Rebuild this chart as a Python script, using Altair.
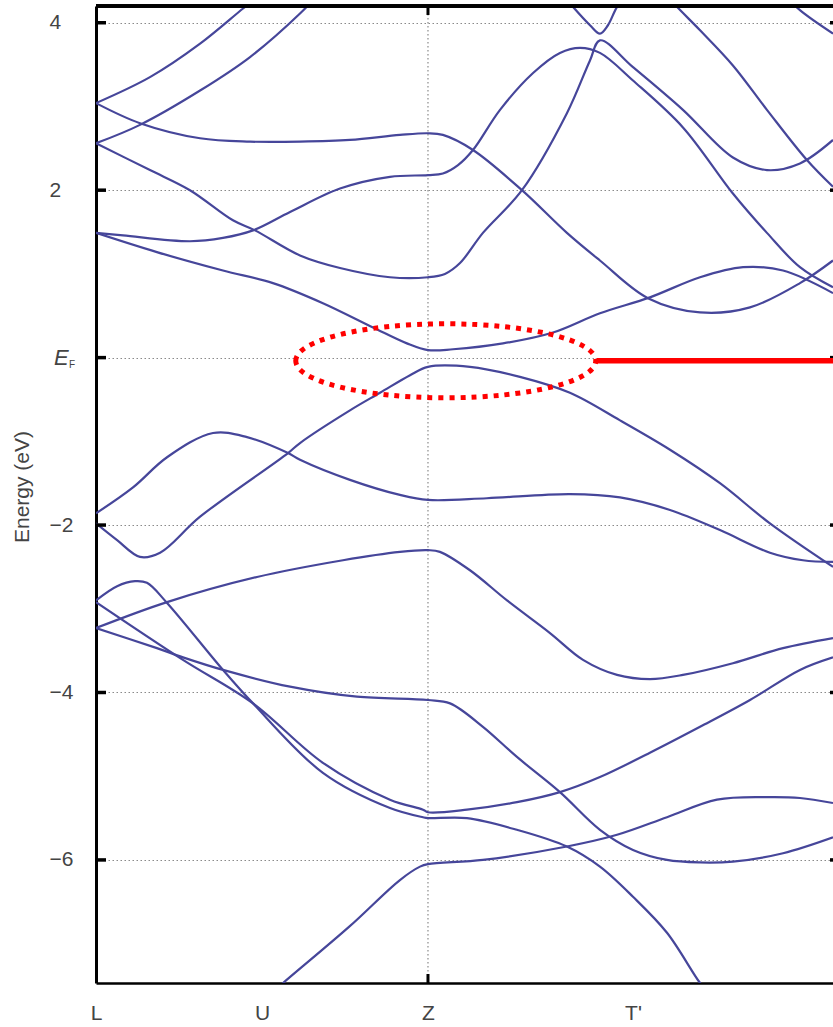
import json
import altair as alt
import pandas as pd

# ---------------- data ----------------
kpoint_names = ["L", "U", "Z", "T'"]
kpoint_pos = [0.0, 1.0, 2.0, 3.235]
k_max = 4.44
e_min, e_max = -7.47, 4.2
energy_ticks = [-6, -4, -2, 0, 2, 4]
z_line = [2.0]

A_k = [0.0, 0.325, 0.627, 0.886, 0.988]
A_e = [3.04, 3.35, 3.75, 4.17, 4.33]

B_k = [0.0, 0.265, 0.627, 0.928, 1.229, 1.349]
B_e = [2.56, 2.78, 3.19, 3.59, 4.11, 4.36]

C_k = [0.0, 0.265, 0.627, 0.928, 1.229, 1.530, 1.831, 2.0, 2.090, 2.271, 2.566, 2.837, 3.036, 3.325, 3.639, 3.940, 4.241, 4.44]
C_e = [3.04, 2.80, 2.62, 2.58, 2.58, 2.60, 2.66, 2.68, 2.66, 2.48, 2.00, 1.49, 1.16, 0.71, 0.54, 0.60, 0.89, 1.16]

D_k = [0.0, 0.325, 0.566, 0.825, 0.958, 1.229, 1.470, 1.771, 2.0, 2.102, 2.193, 2.331, 2.566, 2.837, 2.976, 3.036, 3.235, 3.536, 3.837, 4.042, 4.241, 4.44]
D_e = [2.56, 2.24, 2.00, 1.64, 1.52, 1.22, 1.07, 0.96, 0.96, 1.00, 1.13, 1.49, 2.00, 2.92, 3.55, 3.79, 3.47, 2.96, 2.39, 2.24, 2.32, 2.60]

E_k = [0.0, 0.163, 0.566, 0.765, 0.946, 1.169, 1.470, 1.771, 2.0, 2.090, 2.181, 2.271, 2.434, 2.633, 2.795, 2.916, 3.036, 3.235, 3.536, 3.837, 4.042, 4.241, 4.44]
E_e = [1.49, 1.46, 1.39, 1.43, 1.52, 1.74, 2.02, 2.16, 2.18, 2.20, 2.30, 2.48, 2.96, 3.40, 3.64, 3.70, 3.64, 3.31, 2.75, 1.96, 1.49, 1.08, 0.84]

F_k = [0.0, 0.367, 0.765, 1.066, 1.367, 1.669, 1.873, 2.0, 2.151, 2.452, 2.753, 3.036, 3.337, 3.639, 3.898, 4.139, 4.44]
F_e = [1.49, 1.26, 1.04, 0.89, 0.65, 0.36, 0.17, 0.09, 0.10, 0.17, 0.30, 0.53, 0.72, 0.96, 1.08, 1.04, 0.77]

V_k = [2.765, 2.873, 2.976, 3.036, 3.084, 3.139, 3.217]
V_e = [4.45, 4.19, 3.97, 3.87, 3.97, 4.19, 4.39]

S_k = [3.428, 3.500, 3.639, 3.837, 4.042, 4.283, 4.44]
S_e = [4.35, 4.19, 3.91, 3.49, 2.96, 2.36, 2.04]

T_k = [4.151, 4.241, 4.44]
T_e = [4.33, 4.15, 3.87]

G_k = [0.0, 0.223, 0.428, 0.705, 0.910, 1.157, 1.229, 1.530, 1.831, 2.0, 2.355, 2.855, 3.157, 3.458, 3.759, 4.060, 4.259, 4.44]
G_e = [-1.86, -1.55, -1.19, -0.90, -0.95, -1.14, -1.22, -1.46, -1.64, -1.70, -1.68, -1.63, -1.67, -1.82, -2.06, -2.33, -2.42, -2.44]

H_k = [0.0, 0.127, 0.265, 0.386, 0.627, 1.157, 1.229, 1.530, 1.711, 1.892, 2.0, 2.253, 2.554, 2.855, 3.157, 3.458, 3.759, 4.060, 4.44]
H_e = [-1.98, -2.18, -2.38, -2.33, -1.90, -1.14, -1.02, -0.63, -0.42, -0.21, -0.11, -0.11, -0.23, -0.42, -0.75, -1.10, -1.50, -1.98, -2.50]

I_k = [0.0, 0.127, 0.235, 0.307, 0.428, 0.765, 0.946, 1.367, 1.771, 1.970, 2.0, 2.235, 2.536, 2.837, 3.036, 3.235, 3.440, 3.639, 3.699]
I_e = [-2.90, -2.73, -2.67, -2.69, -2.93, -3.73, -4.13, -4.96, -5.38, -5.49, -5.50, -5.50, -5.64, -5.84, -6.08, -6.44, -6.87, -7.47, -7.61]

J_k = [0.0, 0.428, 0.970, 1.488, 1.831, 2.0, 2.072, 2.253, 2.476, 2.735, 2.934, 3.139, 3.337, 3.536, 3.837, 4.139, 4.44]
J_e = [-3.23, -2.92, -2.62, -2.42, -2.32, -2.30, -2.32, -2.54, -2.90, -3.29, -3.61, -3.79, -3.84, -3.79, -3.65, -3.47, -3.35]

K_k = [0.0, 0.367, 0.524, 0.765, 1.169, 1.572, 2.0, 2.133, 2.331, 2.536, 2.795, 3.036, 3.235, 3.440, 3.639, 3.837, 4.139, 4.44]
K_e = [-3.23, -3.47, -3.58, -3.73, -3.93, -4.05, -4.09, -4.13, -4.41, -4.77, -5.19, -5.64, -5.88, -6.00, -6.03, -6.02, -5.92, -5.73]

N_k = [0.0, 0.524, 0.946, 1.367, 1.771, 1.970, 2.0, 2.235, 2.536, 2.795, 3.036, 3.337, 3.639, 3.940, 4.241, 4.44]
N_e = [-2.92, -3.61, -4.13, -4.84, -5.28, -5.40, -5.43, -5.40, -5.31, -5.19, -5.01, -4.72, -4.41, -4.09, -3.73, -3.58]

P_k = [1.048, 1.127, 1.524, 1.831, 1.952, 2.0, 2.331, 2.837, 3.139, 3.440, 3.741, 4.042, 4.241, 4.44]
P_e = [-7.61, -7.47, -6.80, -6.24, -6.08, -6.05, -6.00, -5.84, -5.70, -5.49, -5.28, -5.25, -5.26, -5.32]

# red annotation (dotted ellipse around the gap + line at E_F)
ellipse_k = [2.107]
ellipse_e = [-0.038]
red_line_k = [3.018]
red_line_k2 = [4.44]
red_line_e = [-0.038]

# ---------------- build tables ----------------
band_list = [
    ("A", A_k, A_e), ("B", B_k, B_e), ("C", C_k, C_e), ("D", D_k, D_e),
    ("E", E_k, E_e), ("F", F_k, F_e), ("V", V_k, V_e), ("S", S_k, S_e),
    ("T", T_k, T_e), ("G", G_k, G_e), ("H", H_k, H_e), ("I", I_k, I_e),
    ("J", J_k, J_e), ("K", K_k, K_e), ("N", N_k, N_e), ("P", P_k, P_e),
]
rows = []
for name, ks, es in band_list:
    for i, (k, e) in enumerate(zip(ks, es)):
        rows.append({"band": name, "k": k, "E": e, "i": i})
df = pd.DataFrame(rows)

W, H = 737, 977
FONT = "Liberation Sans"
LINE_COLOR = "#46469a"
GRID_COLOR = "#8a8a8a"
TEXT_COLOR = "#444444"
FS = 21

xs = alt.Scale(domain=[0, k_max], nice=False, zero=False)
ys = alt.Scale(domain=[e_min, e_max], nice=False, zero=False)

x_label_expr = " : ".join(
    f"datum.value == {p} ? {json.dumps(n)}" for p, n in zip(kpoint_pos, kpoint_names)
) + " : ''"

x_axis = alt.Axis(
    values=kpoint_pos, labelExpr=x_label_expr, grid=False, ticks=False, tickSize=0,
    domainColor="black", domainWidth=2.5, labelPadding=19, labelFontSize=FS,
    labelColor=TEXT_COLOR, labelFont=FONT, labelFlush=False, title=None,
)
y_axis = alt.Axis(
    values=energy_ticks, format="d", labelExpr="datum.value == 0 ? '' : datum.label",
    grid=True, gridDash=[1.5, 2.5], gridColor=GRID_COLOR, gridWidth=1.2,
    ticks=False, tickSize=0, domainColor="black", domainWidth=3,
    labelAlign="left", labelPadding=47, labelFontSize=FS, labelColor=TEXT_COLOR,
    labelFont=FONT, title="Energy (eV)", titleFont=FONT, titleFontSize=FS,
    titleFontWeight="normal", titleColor=TEXT_COLOR, titleAngle=270,
    titleX=-74, titleY=H / 2 - 8, titleAlign="center", titleBaseline="middle",
)

bands = alt.Chart(df).mark_line(
    color=LINE_COLOR, strokeWidth=2.2, clip=True, interpolate="catmull-rom"
).encode(
    x=alt.X("k:Q", scale=xs, axis=x_axis),
    y=alt.Y("E:Q", scale=ys, axis=y_axis),
    detail="band:N",
    order="i:Q",
)

# vertical dotted grid line at Z
zdf = pd.DataFrame({"k": z_line})
z_grid = alt.Chart(zdf).mark_rule(
    color=GRID_COLOR, strokeWidth=1.2, strokeDash=[1.5, 2.5]
).encode(x=alt.X("k:Q", scale=xs))
z_tick_bottom = alt.Chart(zdf).mark_rule(color="black", strokeWidth=3).encode(
    x=alt.X("k:Q", scale=xs), y=alt.value(H - 9), y2=alt.value(H))
z_tick_top = alt.Chart(zdf).mark_rule(color="black", strokeWidth=3).encode(
    x=alt.X("k:Q", scale=xs), y=alt.value(0), y2=alt.value(9))

# inward ticks on the energy axis
tdf = pd.DataFrame({"E": energy_ticks})
left_ticks = alt.Chart(tdf).mark_rule(color="black", strokeWidth=3.5).encode(
    y=alt.Y("E:Q", scale=ys), x=alt.value(0), x2=alt.value(10))
right_ticks = alt.Chart(tdf).mark_rule(color="black", strokeWidth=3.5).encode(
    y=alt.Y("E:Q", scale=ys), x=alt.value(W - 3), x2=alt.value(W))

# frame top
top_border = alt.Chart(tdf).mark_rule(color="black", strokeWidth=3).encode(
    y=alt.value(0), x=alt.value(0), x2=alt.value(W))

# E_F label
efdf = pd.DataFrame({"E": [0.0]})
ef_e = alt.Chart(efdf).mark_text(
    text="E", font=FONT, fontSize=22, fontStyle="italic", color=TEXT_COLOR,
    align="left", baseline="middle"
).encode(y=alt.Y("E:Q", scale=ys), x=alt.value(-42))
ef_f = alt.Chart(efdf).mark_text(
    text="F", font=FONT, fontSize=10, color=TEXT_COLOR,
    align="left", baseline="middle", dy=7
).encode(y=alt.Y("E:Q", scale=ys), x=alt.value(-27))

# red dotted ellipse and red line
ratio = 0.2467
kap = 0.5523 * ratio
ellipse_path = (
    f"M -1 0 C -1 {-kap:.4f} -0.5523 {-ratio} 0 {-ratio} "
    f"C 0.5523 {-ratio} 1 {-kap:.4f} 1 0 "
    f"C 1 {kap:.4f} 0.5523 {ratio} 0 {ratio} "
    f"C -0.5523 {ratio} -1 {kap:.4f} -1 0 Z"
)
edf = pd.DataFrame({"k": ellipse_k, "E": ellipse_e})
ellipse = alt.Chart(edf).mark_point(
    shape=ellipse_path, size=300 * 300, filled=False, color="#ff0000",
    stroke="#ff0000", strokeWidth=5, strokeDash=[5, 6], opacity=1
).encode(x=alt.X("k:Q", scale=xs), y=alt.Y("E:Q", scale=ys))

rdf = pd.DataFrame({"k": red_line_k, "k2": red_line_k2, "E": red_line_e})
red_line = alt.Chart(rdf).mark_rule(color="#ff0000", strokeWidth=5.5).encode(
    x=alt.X("k:Q", scale=xs), x2="k2:Q", y=alt.Y("E:Q", scale=ys))

chart = alt.layer(
    z_grid, bands, z_tick_bottom, z_tick_top, left_ticks, right_ticks,
    top_border, ef_e, ef_f, red_line, ellipse
).properties(
    width=W, height=H,
    autosize=alt.AutoSizeParams(type="none"),
    padding={"left": 96, "top": 6, "right": 0, "bottom": 44},
    background="white",
).configure_view(stroke=None)

chart.save("out.html", embed_options={"renderer": "svg", "actions": False})
